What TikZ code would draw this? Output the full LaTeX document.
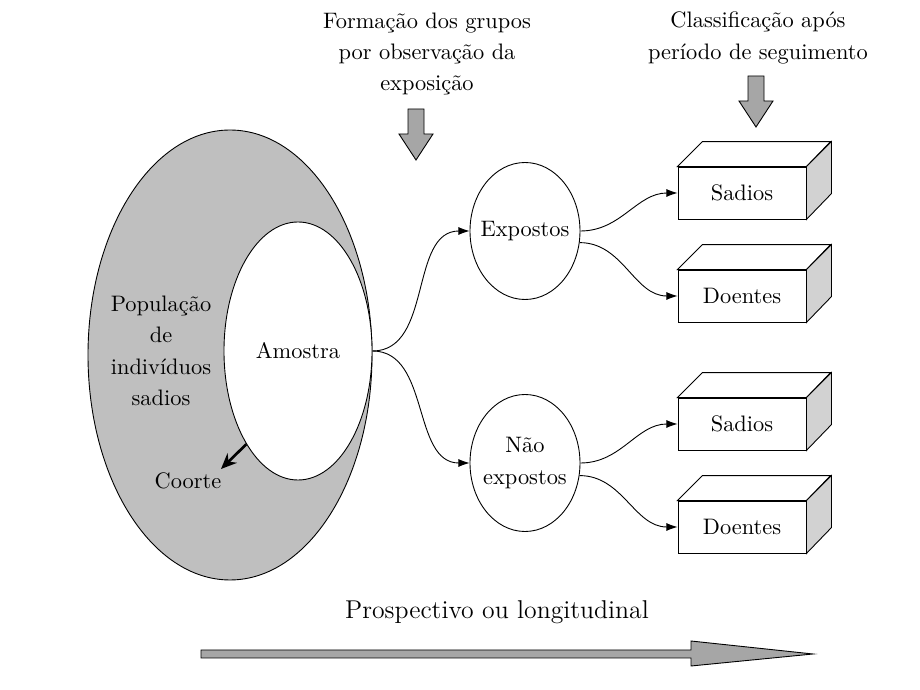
\documentclass[tikz,border=0pt]{standalone}
\usepackage{tikz}
\usetikzlibrary{shapes.geometric,arrows.meta,positioning,calc}

\tikzset{
  txt/.style={align=center,font=\fontsize{10}{14}\selectfont},
  grupo/.style={ellipse,draw,fill=white,minimum width=1.727cm,minimum height=2.151cm,inner sep=0pt,
    label={[txt]center:#1}},
  caixa/.style={draw,fill=white,minimum width=2.01cm,minimum height=0.816cm,inner sep=0pt,txt},
  liga/.style={-{Latex[length=5pt,width=3.6pt]}},
  seta/.style={draw,fill=gray!70},
}

\begin{document}
\begin{tikzpicture}[x=0.0157cm,y=-0.0157cm]
\useasboundingbox (0,0) rectangle (920,690);
% populacao e amostra
\node[ellipse,draw,fill=gray!50,minimum width=4.459cm,minimum height=7.065cm,inner sep=0pt] (pop) at (230,355) {};
\node[ellipse,draw,fill=white,minimum width=2.324cm,minimum height=4.051cm,inner sep=0pt,txt] (amostra) at (298,351) {Amostra};
\node[txt] (popl) at (161,351) {Popula\c{c}\~ao\\de\\indiv\'iduos\\sadios};
\node[txt] (coorte) at (188,481) {Coorte};
\coordinate (cpt) at (221,469);
\draw[-{Stealth[length=7pt,width=6pt]},line width=1.2pt] (amostra.241) -- (cpt);
% grupos
\node[grupo={Expostos}] (exp) at (525,231) {};
\node[grupo={N\~ao\\expostos}] (nexp) at (525,463) {};
\draw[liga] (amostra.east) to[out=0,in=180] (exp.west);
\draw[liga] (amostra.east) to[out=0,in=180] (nexp.west);
% caixas
\node[caixa] (s1) at (742,193) {Sadios};
\node[caixa] (d1) at (742,296) {Doentes};
\node[caixa] (s2) at (742,424) {Sadios};
\node[caixa] (d2) at (742,527) {Doentes};
\foreach \b in {s1,d1,s2,d2}{
  \draw[fill=white] (\b.north west) -- ++(25,-25) -- ++(128,0) -- (\b.north east) -- cycle;
  \draw[fill=gray!35] (\b.north east) -- ++(25,-25) -- ++(0,52) -- (\b.south east) -- cycle;
}
\draw[liga] (exp.east) to[out=0,in=180] (s1.west);
\draw[liga] (exp.-12) to[out=0,in=180] (d1.west);
\draw[liga] (nexp.east) to[out=0,in=180] (s2.west);
\draw[liga] (nexp.-13) to[out=0,in=180] (d2.west);
% titulos
\node[txt] (form) at (427,54) {Forma\c{c}\~ao dos grupos\\por observa\c{c}\~ao da\\exposi\c{c}\~ao};
\node[txt] (class) at (758,38) {Classifica\c{c}\~ao ap\'os\\per\'iodo de seguimento};
\foreach \cx/\ty in {416/109,756/76}
  \draw[seta] (\cx-8,\ty) -- (\cx+8,\ty) -- (\cx+8,\ty+25) -- (\cx+17,\ty+25) -- (\cx,\ty+51)
    -- (\cx-17,\ty+25) -- (\cx-8,\ty+25) -- cycle;
% eixo do tempo
\node[font=\fontsize{11.5}{14}\selectfont] (prosp) at (497,612) {Prospectivo ou longitudinal};
\draw[seta] (201,650) -- (691,650) -- (691,641) -- (813,654) -- (691,666) -- (691,658) -- (201,658) -- cycle;
\end{tikzpicture}
\end{document}
